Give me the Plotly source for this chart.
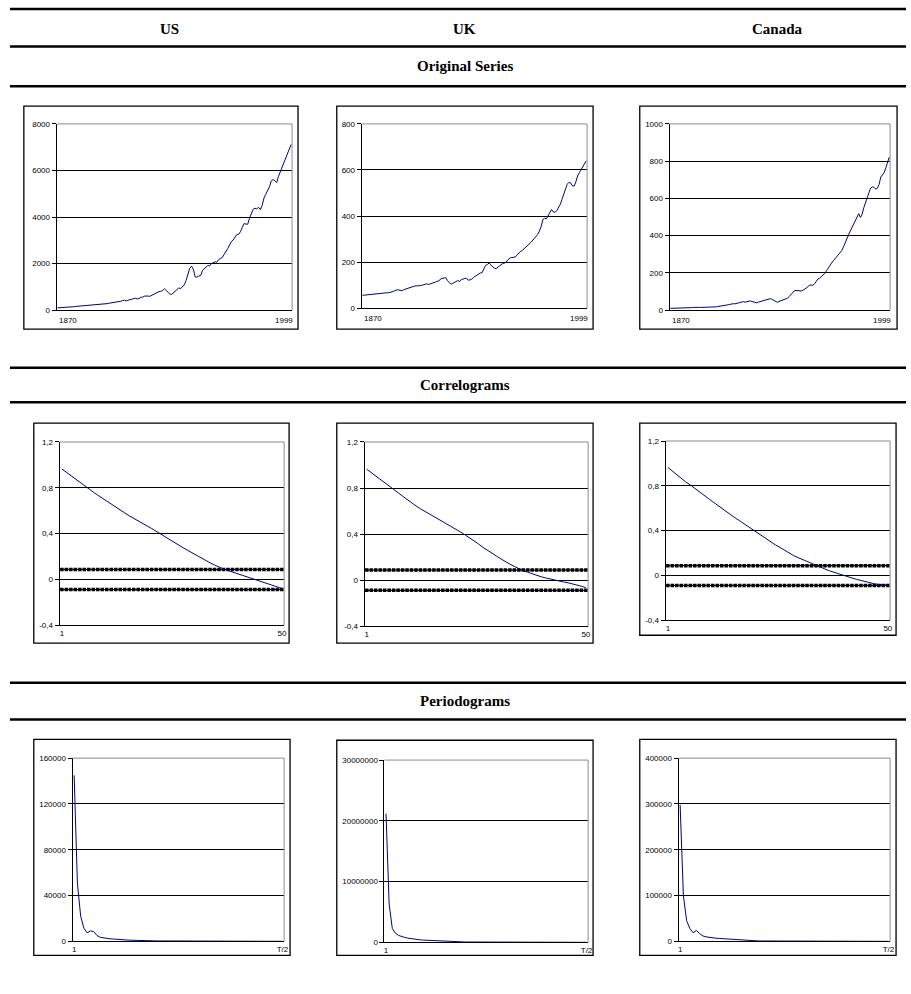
import plotly.graph_objects as go

FIG_W, FIG_H = 911, 994

# ---------------------------------------------------------------- data
countries = ["US", "UK", "Canada"]
section_titles = ["Original Series", "Correlograms", "Periodograms"]

years = list(range(1870, 2000))

us_series = [
    100, 102, 108, 113, 114, 118, 124, 130, 138, 150,
    162, 168, 176, 180, 184, 188, 198, 202, 208, 214,
    228, 236, 252, 243, 240, 262, 260, 280, 286, 308,
    318, 342, 348, 364, 360, 384, 420, 428, 400, 448,
    458, 470, 494, 518, 482, 500, 556, 562, 604, 616,
    608, 596, 636, 712, 736, 756, 798, 810, 840, 922,
    852, 792, 694, 680, 748, 812, 918, 958, 926, 1002,
    1090, 1280, 1530, 1800, 1890, 1750, 1430, 1420, 1468, 1482,
    1700, 1800, 1850, 1920, 1905, 2000, 2050, 2080, 2060, 2180,
    2220, 2265, 2400, 2500, 2650, 2800, 2950, 3020, 3150, 3250,
    3262, 3370, 3550, 3720, 3700, 3690, 3950, 4150, 4330, 4380,
    4350, 4420, 4320, 4500, 4820, 4980, 5120, 5300, 5550, 5610,
    5560, 5480, 5750, 5950, 6200, 6400, 6600, 6800, 6980, 7120,
]

uk_series = [
    56, 57, 58, 59, 60, 60, 61, 62, 62, 62,
    64, 65, 67, 67, 67, 67, 68, 71, 74, 78,
    80, 79, 77, 76, 81, 84, 87, 89, 92, 95,
    96, 97, 99, 98, 99, 102, 105, 106, 103, 105,
    108, 111, 113, 117, 118, 127, 130, 132, 133, 120,
    112, 104, 108, 111, 116, 120, 116, 125, 126, 130,
    129, 122, 123, 126, 134, 139, 145, 151, 153, 155,
    170, 186, 190, 196, 188, 180, 174, 172, 178, 184,
    190, 195, 196, 203, 211, 218, 220, 222, 222, 230,
    240, 246, 250, 258, 265, 272, 278, 285, 293, 300,
    310, 320, 335, 355, 385, 390, 388, 402, 415, 428,
    418, 416, 424, 435, 450, 472, 492, 515, 538, 546,
    544, 531, 530, 548, 574, 588, 602, 617, 630, 640,
]

ca_series = [
    10, 10, 11, 11, 11, 11, 11, 12, 12, 12,
    13, 13, 14, 14, 15, 14, 14, 15, 15, 15,
    16, 16, 17, 17, 17, 17, 17, 18, 20, 21,
    22, 24, 26, 28, 29, 31, 34, 35, 34, 37,
    40, 42, 45, 46, 43, 45, 49, 50, 47, 44,
    42, 39, 44, 47, 49, 52, 56, 59, 63, 62,
    58, 51, 45, 42, 47, 51, 54, 58, 59, 64,
    73, 84, 98, 104, 106, 104, 102, 103, 106, 111,
    118, 125, 135, 136, 134, 142, 158, 168, 172, 180,
    186, 198, 212, 228, 240, 253, 265, 277, 288, 300,
    310, 320, 340, 365, 385, 405, 425, 445, 465, 485,
    505, 518, 498, 515, 550, 580, 605, 630, 655, 662,
    660, 650, 655, 675, 715, 730, 738, 765, 790, 822,
]

lags = list(range(1, 51))

us_acf = [
    0.965, 0.935, 0.905, 0.876, 0.848, 0.819, 0.790, 0.763, 0.736, 0.709,
    0.683, 0.657, 0.631, 0.606, 0.581, 0.556, 0.532, 0.508, 0.488, 0.467,
    0.445, 0.420, 0.397, 0.372, 0.348, 0.324, 0.300, 0.277, 0.255, 0.232,
    0.208, 0.185, 0.165, 0.146, 0.127, 0.108, 0.092, 0.078, 0.065, 0.052,
    0.040, 0.027, 0.014, 0.002, -0.010, -0.022, -0.034, -0.047, -0.062, -0.078,
]

uk_acf = [
    0.963, 0.933, 0.902, 0.872, 0.845, 0.818, 0.790, 0.760, 0.730, 0.700,
    0.672, 0.645, 0.620, 0.598, 0.577, 0.556, 0.535, 0.512, 0.490, 0.467,
    0.443, 0.418, 0.393, 0.368, 0.342, 0.315, 0.285, 0.258, 0.235, 0.210,
    0.185, 0.160, 0.140, 0.120, 0.100, 0.082, 0.070, 0.055, 0.040, 0.030,
    0.020, 0.010, 0.000, -0.008, -0.015, -0.022, -0.030, -0.040, -0.052, -0.065,
]

ca_acf = [
    0.965, 0.932, 0.898, 0.866, 0.834, 0.808, 0.780, 0.748, 0.718, 0.688,
    0.658, 0.628, 0.598, 0.568, 0.540, 0.514, 0.488, 0.460, 0.432, 0.405,
    0.378, 0.350, 0.322, 0.296, 0.272, 0.250, 0.225, 0.200, 0.178, 0.160,
    0.142, 0.125, 0.108, 0.092, 0.075, 0.058, 0.042, 0.028, 0.015, 0.002,
    -0.010, -0.022, -0.034, -0.045, -0.055, -0.065, -0.074, -0.080, -0.084, -0.085,
]

# approximate significance bound, 1/sqrt(T) with T = 130
acf_bound = 0.088

freqs = list(range(1, 66))

us_pgram = [
    145000, 51000, 22000, 11500, 7500, 9200, 8600, 5200, 3600, 3000,
    2600, 2300, 2100, 2050, 1850, 1550, 1300, 1100, 950, 850,
    760, 690, 620, 560, 520, 480, 450, 420, 390, 360,
    340, 320, 300, 280, 260, 250, 240, 230, 215, 200,
    190, 180, 175, 168, 160, 152, 145, 140, 135, 128,
    122, 118, 114, 110, 106, 102, 99, 96, 94, 92,
    90, 88, 87, 86, 85,
]

uk_pgram = [
    21200000, 6300000, 2300000, 1500000, 1150000, 950000, 820000, 700000, 600000, 520000,
    460000, 420000, 380000, 350000, 320000, 290000, 260000, 240000, 220000, 200000,
    150000, 120000, 100000, 90000, 82000, 76000, 70000, 65000, 60000, 56000,
    52000, 49000, 46000, 43000, 41000, 39000, 37000, 35000, 33500, 32000,
    30500, 29000, 28000, 27000, 26000, 25000, 24200, 23400, 22600, 22000,
    21400, 20800, 20300, 19800, 19300, 18900, 18500, 18100, 17800, 17500,
    17200, 16900, 16700, 16500, 16300,
]

ca_pgram = [
    298000, 100000, 45000, 28000, 19000, 24000, 17000, 12000, 10000, 8500,
    7500, 7000, 6500, 6000, 5200, 4600, 4000, 3400, 2800, 2300,
    1900, 1600, 1400, 1250, 1100, 1000, 920, 850, 790, 740,
    690, 650, 610, 580, 550, 520, 500, 480, 460, 440,
    420, 400, 385, 370, 355, 340, 330, 320, 310, 300,
    290, 282, 275, 268, 262, 256, 250, 245, 240, 236,
    232, 228, 225, 222, 220,
]

# tick labels
year_labels = ["1870", "1999"]
lag_labels = ["1", "50"]
freq_labels = ["1", "T/2"]

us_series_ticks = [0, 2000, 4000, 6000, 8000]
uk_series_ticks = [0, 200, 400, 600, 800]
ca_series_ticks = [0, 200, 400, 600, 800, 1000]
acf_ticks = [-0.4, 0, 0.4, 0.8, 1.2]
acf_tick_text = ["-0,4", "0", "0,4", "0,8", "1,2"]
us_pgram_ticks = [0, 40000, 80000, 120000, 160000]
uk_pgram_ticks = [0, 10000000, 20000000, 30000000]
ca_pgram_ticks = [0, 100000, 200000, 300000, 400000]

# ---------------------------------------------------------------- layout geometry (pixels)
LINE_BLUE = "#000080"
TICK_FONT = dict(family="Liberation Sans, Arial, sans-serif", size=8, color="#000000")
HEAD_FONT = dict(family="Liberation Serif, Times New Roman, serif", size=15, color="#000000")

# (plot area box, outer frame box) as (left, top, right, bottom)
panel_boxes = [
    ((56, 121, 293, 309), (23, 103, 299, 328)),
    ((363, 121, 590, 307), (338, 103, 596, 328)),
    ((673, 121, 895, 309), (643, 103, 902, 328)),
    ((59, 442, 285, 627), (33, 423, 290, 645)),
    ((366, 442, 591, 628), (338, 423, 596, 645)),
    ((669, 441, 895, 622), (643, 423, 901, 637)),
    ((72, 761, 285, 946), (33, 742, 291, 960)),
    ((386, 763, 591, 947), (338, 743, 596, 960)),
    ((682, 761, 895, 946), (643, 742, 901, 960)),
]

rule_ys = [5, 43, 83, 367, 402, 685, 722]
country_xs = [170, 467, 782]
country_y = 25
section_ys = [63, 384.5, 703.5]


def px_x(x):
    return x / FIG_W


def px_y(y):
    return 1 - y / FIG_H


panels = [
    dict(x=years, y=us_series, yt=us_series_ticks, ytt=[str(v) for v in us_series_ticks], kind="series"),
    dict(x=years, y=uk_series, yt=uk_series_ticks, ytt=[str(v) for v in uk_series_ticks], kind="series"),
    dict(x=years, y=ca_series, yt=ca_series_ticks, ytt=[str(v) for v in ca_series_ticks], kind="series"),
    dict(x=lags, y=us_acf, yt=acf_ticks, ytt=acf_tick_text, kind="acf"),
    dict(x=lags, y=uk_acf, yt=acf_ticks, ytt=acf_tick_text, kind="acf"),
    dict(x=lags, y=ca_acf, yt=acf_ticks, ytt=acf_tick_text, kind="acf"),
    dict(x=freqs, y=us_pgram, yt=us_pgram_ticks, ytt=[str(v) for v in us_pgram_ticks], kind="pgram"),
    dict(x=freqs, y=uk_pgram, yt=uk_pgram_ticks, ytt=[str(v) for v in uk_pgram_ticks], kind="pgram"),
    dict(x=freqs, y=ca_pgram, yt=ca_pgram_ticks, ytt=[str(v) for v in ca_pgram_ticks], kind="pgram"),
]

fig = go.Figure()
shapes = []
annotations = []
layout_axes = {}

for i, (p, (plot_box, frame_box)) in enumerate(zip(panels, panel_boxes), start=1):
    xa = "x" if i == 1 else f"x{i}"
    ya = "y" if i == 1 else f"y{i}"
    xkey = "xaxis" if i == 1 else f"xaxis{i}"
    ykey = "yaxis" if i == 1 else f"yaxis{i}"
    l, t, r, b = plot_box

    if p["kind"] == "series":
        xrange = [p["x"][0] - 0.5, p["x"][-1] + 0.5]
        xtv, xtt = [], []
    elif p["kind"] == "acf":
        xrange = [0.5, len(p["x"]) + 0.5]
        xtv, xtt = [p["x"][0], p["x"][-1]], lag_labels
    else:
        xrange = [0.5, len(p["x"]) + 0.5]
        xtv, xtt = [p["x"][0], p["x"][-1]], freq_labels

    layout_axes[xkey] = dict(
        domain=[px_x(l), px_x(r)], anchor=ya, range=xrange,
        tickvals=xtv, ticktext=xtt, showticklabels=bool(xtv),
        showgrid=False, zeroline=False, showline=True, linecolor="#000000",
        linewidth=1, ticks="", tickfont=TICK_FONT, fixedrange=True,
    )
    layout_axes[ykey] = dict(
        domain=[px_y(b), px_y(t)], anchor=xa, range=[p["yt"][0], p["yt"][-1]],
        tickvals=p["yt"], ticktext=p["ytt"], showgrid=True, gridcolor="#000000",
        gridwidth=1, zeroline=False, showline=True, linecolor="#000000", linewidth=1,
        ticks="outside", ticklen=4, tickcolor="#000000", tickwidth=1,
        tickfont=TICK_FONT, fixedrange=True,
    )

    if p["kind"] == "acf":
        for sign in (1, -1):
            fig.add_trace(go.Scatter(
                x=p["x"], y=[sign * acf_bound] * len(p["x"]), mode="lines+markers",
                line=dict(color="#000000", width=1),
                marker=dict(symbol="square", size=3.5, color="#000000"),
                xaxis=xa, yaxis=ya, showlegend=False, hoverinfo="skip",
            ))

    fig.add_trace(go.Scatter(
        x=p["x"], y=p["y"], mode="lines", line=dict(color=LINE_BLUE, width=1),
        xaxis=xa, yaxis=ya, showlegend=False, hoverinfo="skip",
    ))

    # grey plot-area border on the top and right
    shapes.append(dict(type="line", xref=f"{xa} domain", yref=f"{ya} domain",
                       x0=0, x1=1, y0=1, y1=1, line=dict(color="#8c8c8c", width=1), layer="above"))
    shapes.append(dict(type="line", xref=f"{xa} domain", yref=f"{ya} domain",
                       x0=1, x1=1, y0=0, y1=1, line=dict(color="#8c8c8c", width=1), layer="above"))

    # outer chart frame
    fl, ft, fr, fb = frame_box
    shapes.append(dict(type="rect", xref="paper", yref="paper",
                       x0=px_x(fl), x1=px_x(fr), y0=px_y(fb), y1=px_y(ft),
                       line=dict(color="#000000", width=1.3), layer="above"))

    if p["kind"] == "series":
        annotations.append(dict(x=xrange[0], y=0, xref=xa, yref=f"{ya} domain",
                                text=year_labels[0], showarrow=False, xanchor="left",
                                yanchor="top", yshift=-4, font=TICK_FONT))
        annotations.append(dict(x=xrange[1], y=0, xref=xa, yref=f"{ya} domain",
                                text=year_labels[1], showarrow=False, xanchor="right",
                                yanchor="top", yshift=-4, xshift=3, font=TICK_FONT))

# heavy horizontal rules of the table
for y in rule_ys:
    shapes.append(dict(type="line", xref="paper", yref="paper",
                       x0=px_x(9), x1=1, y0=px_y(y), y1=px_y(y),
                       line=dict(color="#000000", width=2.5)))

for name, cx in zip(countries, country_xs):
    annotations.append(dict(x=px_x(cx), y=px_y(country_y), xref="paper", yref="paper",
                            text=f"<b>{name}</b>", showarrow=False, font=HEAD_FONT,
                            xanchor="center", yanchor="middle"))

for title, cy in zip(section_titles, section_ys):
    annotations.append(dict(x=px_x(467), y=px_y(cy), xref="paper", yref="paper",
                            text=f"<b>{title}</b>", showarrow=False, font=HEAD_FONT,
                            xanchor="center", yanchor="middle"))

fig.update_layout(
    width=FIG_W, height=FIG_H, margin=dict(l=0, r=0, t=0, b=0, pad=0),
    paper_bgcolor="#ffffff", plot_bgcolor="#ffffff",
    shapes=shapes, annotations=annotations, **layout_axes,
)

fig.write_html("out.html")
